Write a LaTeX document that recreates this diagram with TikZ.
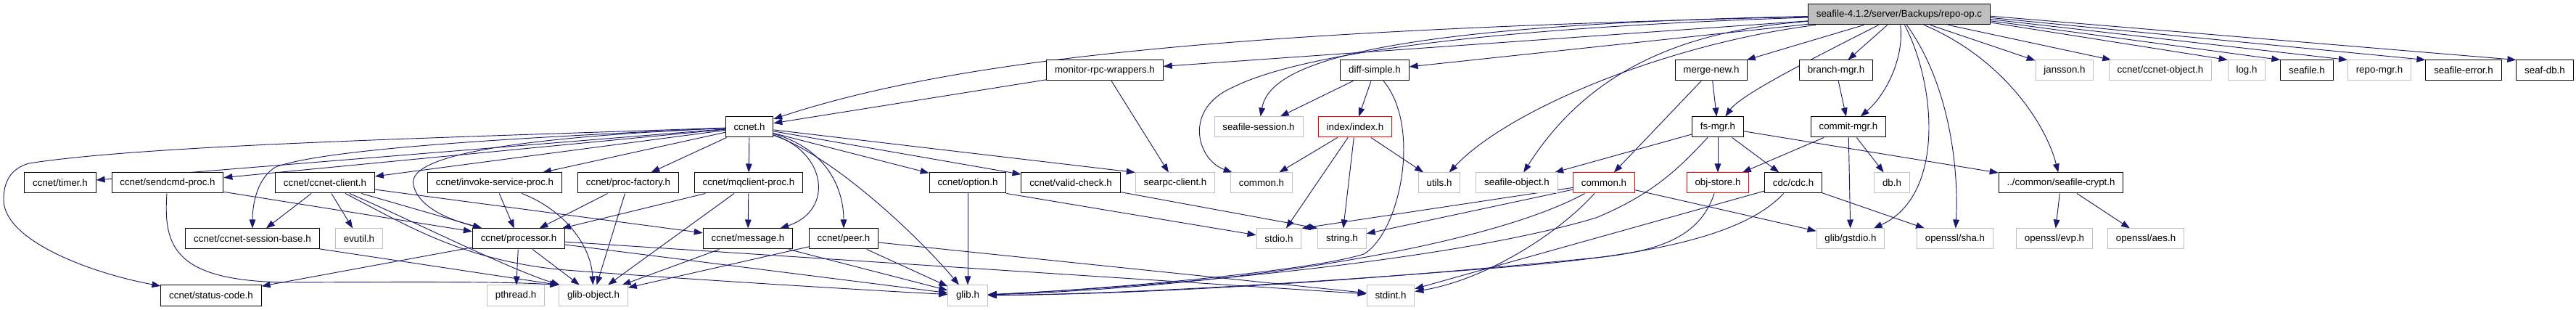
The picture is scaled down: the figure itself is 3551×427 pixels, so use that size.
\documentclass[tikz,border=0pt]{standalone}
\usepackage{fontspec}
\setmainfont{Liberation Sans}
\usetikzlibrary{arrows.meta, backgrounds}
\definecolor{incblue}{HTML}{191970}
\definecolor{sysgray}{HTML}{BFBFBF}
\tikzset{
  hfile/.style={rectangle, draw=black, fill=white, line width=0.75pt,
    minimum height=21pt, inner xsep=8.5pt, inner ysep=0pt,
    font=\fontsize{10}{12}\selectfont},
  hsys/.style={hfile, draw=sysgray},
  hmiss/.style={hfile, draw=red},
  hmain/.style={hfile, fill=sysgray},
  inc/.style={draw=incblue, line width=0.7pt, -{Triangle[length=9pt,width=6.5pt]}}
}

\begin{document}
\begin{tikzpicture}[x=0.75pt, y=-0.75pt]
  % 固定画布大小（像素坐标，y 向下）
  \useasboundingbox (0,0) rectangle (3551,427);
  % 各行的纵坐标
  \def\rowa{20}
  \def\rowb{97}
  \def\rowc{175}
  \def\rowd{252}
  \def\rowe{329}
  \def\rowf{407}

  % 第0行：源文件
  \node[hmain] (root) at (2618,\rowa) {seafile-4.1.2/server/Backups/repo-op.c};

  % 第1行
  \node[hfile] (monitor) at (1523,\rowb) {monitor-rpc-wrappers.h};
  \node[hfile] (diffsimple) at (1895,\rowb) {diff-simple.h};
  \node[hfile] (mergenew) at (2359,\rowb) {merge-new.h};
  \node[hfile] (branchmgr) at (2531,\rowb) {branch-mgr.h};
  \node[hsys] (jansson) at (2846,\rowb) {jansson.h};
  \node[hsys] (ccnetobj) at (2978,\rowb) {ccnet/ccnet-object.h};
  \node[hsys] (logh) at (3097,\rowb) {log.h};
  \node[hfile] (seafileh) at (3180,\rowb) {seafile.h};
  \node[hsys] (repomgr) at (3280,\rowb) {repo-mgr.h};
  \node[hfile] (seaferr) at (3396,\rowb) {seafile-error.h};
  \node[hfile] (seafdb) at (3508,\rowb) {seaf-db.h};

  % 第2行
  \node[hfile] (ccneth) at (1033,\rowc) {ccnet.h};
  \node[hsys] (session) at (1735,\rowc) {seafile-session.h};
  \node[hmiss] (indexh) at (1868,\rowc) {index/index.h};
  \node[hfile] (fsmgr) at (2368,\rowc) {fs-mgr.h};
  \node[hfile] (commitmgr) at (2548,\rowc) {commit-mgr.h};

  % 第3行
  \node[hfile] (timer) at (83,\rowd) {ccnet/timer.h};
  \node[hfile] (sendcmd) at (231,\rowd) {ccnet/sendcmd-proc.h};
  \node[hfile] (client) at (448,\rowd) {ccnet/ccnet-client.h};
  \node[hfile] (invoke) at (682,\rowd) {ccnet/invoke-service-proc.h};
  \node[hfile] (procfactory) at (866,\rowd) {ccnet/proc-factory.h};
  \node[hfile] (mqclient) at (1032,\rowd) {ccnet/mqclient-proc.h};
  \node[hfile] (option) at (1334,\rowd) {ccnet/option.h};
  \node[hfile] (validcheck) at (1476,\rowd) {ccnet/valid-check.h};
  \node[hsys] (searpc) at (1620,\rowd) {searpc-client.h};
  \node[hsys] (commongray) at (1739,\rowd) {common.h};
  \node[hsys] (utils) at (1984,\rowd) {utils.h};
  \node[hsys] (seafobj) at (2091,\rowd) {seafile-object.h};
  \node[hmiss] (commonred) at (2211,\rowd) {common.h};
  \node[hmiss] (objstore) at (2368,\rowd) {obj-store.h};
  \node[hfile] (cdc) at (2472,\rowd) {cdc/cdc.h};
  \node[hsys] (dbh) at (2608,\rowd) {db.h};
  \node[hfile] (crypt) at (2841,\rowd) {../common/seafile-crypt.h};

  % 第4行
  \node[hfile] (sessionbase) at (348,\rowe) {ccnet/ccnet-session-base.h};
  \node[hsys] (evutil) at (495,\rowe) {evutil.h};
  \node[hfile] (processor) at (715,\rowe) {ccnet/processor.h};
  \node[hfile] (message) at (1031,\rowe) {ccnet/message.h};
  \node[hfile] (peer) at (1163,\rowe) {ccnet/peer.h};
  \node[hsys] (stdioh) at (1763,\rowe) {stdio.h};
  \node[hsys] (stringh) at (1850,\rowe) {string.h};
  \node[hsys] (gstdio) at (2551,\rowe) {glib/gstdio.h};
  \node[hsys] (sha) at (2695,\rowe) {openssl/sha.h};
  \node[hsys] (evp) at (2832,\rowe) {openssl/evp.h};
  \node[hsys] (aes) at (2958,\rowe) {openssl/aes.h};

  % 第5行
  \node[hfile] (statuscode) at (291,\rowf) {ccnet/status-code.h};
  \node[hsys] (pthread) at (711,\rowf) {pthread.h};
  \node[hsys] (globject) at (818,\rowf) {glib-object.h};
  \node[hsys] (glibh) at (1334,\rowf) {glib.h};
  \node[hsys] (stdint) at (1917,\rowf) {stdint.h};

  \begin{scope}[on background layer]
    % 源文件直接包含的头文件
    \draw[inc] (root) -- (monitor);
    \draw[inc] (root) .. controls (1800,40) and (1350,70) .. (ccneth);
    \draw[inc] (root) -- (diffsimple);
    \draw[inc] (root) .. controls (1880,35) and (1750,90) .. (session);
    \draw[inc] (root) .. controls (2000,40) and (1780,80) .. (1700,120)
      .. controls (1630,150) and (1650,220) .. (commongray);
    \draw[inc] (root) .. controls (2300,60) and (2080,150) .. (utils);
    \draw[inc] (root) .. controls (2350,40) and (2200,80) .. (seafobj);
    \draw[inc] (root) -- (mergenew);
    \draw[inc] (root) .. controls (2500,80) and (2400,130) .. (fsmgr);
    \draw[inc] (root) -- (branchmgr);
    \draw[inc] (root) .. controls (2625,80) and (2600,130) .. (commitmgr);
    \draw[inc] (root) .. controls (2670,120) and (2680,270) .. (gstdio);
    \draw[inc] (root) .. controls (2690,120) and (2700,240) .. (sha);
    \draw[inc] (root) .. controls (2760,80) and (2820,170) .. (crypt);
    \draw[inc] (root) -- (jansson);
    \draw[inc] (root) -- (ccnetobj);
    \draw[inc] (root.-5) -- (logh.north west);
    \draw[inc] (root.-4.2) -- (seafileh.north west);
    \draw[inc] (root.-3.4) -- (repomgr.north west);
    \draw[inc] (root.-2.6) -- (seaferr.north west);
    \draw[inc] (root.-1.8) -- (seafdb.north west);

    % monitor-rpc-wrappers.h
    \draw[inc] (monitor) -- (ccneth);
    \draw[inc] (monitor) -- (searpc);

    % ccnet.h
    \draw[inc] (ccneth) -- (timer);
    \draw[inc] (ccneth) -- (sendcmd);
    \draw[inc] (ccneth) -- (client);
    \draw[inc] (ccneth) .. controls (700,190) and (450,205) .. (380,230)
      .. controls (355,245) and (348,280) .. (sessionbase);
    \draw[inc] (ccneth) .. controls (600,190) and (200,200) .. (40,225)
      .. controls (15,232) and (5,250) .. (5,275)
      .. controls (5,330) and (120,375) .. (statuscode);
    \draw[inc] (ccneth) .. controls (700,190) and (560,215) .. (570,255)
      .. controls (578,290) and (630,305) .. (processor);
    \draw[inc] (ccneth) -- (invoke);
    \draw[inc] (ccneth) -- (procfactory);
    \draw[inc] (ccneth) -- (mqclient);
    \draw[inc] (ccneth) .. controls (1140,210) and (1150,290) .. (message);
    \draw[inc] (ccneth) .. controls (1140,205) and (1163,260) .. (peer);
    \draw[inc] (ccneth) .. controls (1150,215) and (1270,330) .. (glibh);
    \draw[inc] (ccneth) -- (option);
    \draw[inc] (ccneth) -- (validcheck);
    \draw[inc] (ccneth) -- (searpc.north west);

    % ccnet 子头文件
    \draw[inc] (sendcmd) -- (processor);
    \draw[inc] (sendcmd) .. controls (225,340) and (240,388) .. (400,389)
      .. controls (600,388) and (700,388) .. (globject.north west);
    \draw[inc] (client) -- (sessionbase);
    \draw[inc] (client) -- (evutil);
    \draw[inc] (client) -- (processor);
    \draw[inc] (client) -- (message);
    \draw[inc] (client) .. controls (560,300) and (700,370) .. (globject);
    \draw[inc] (client) .. controls (560,310) and (640,360) .. (780,372)
      .. controls (950,385) and (1200,400) .. (glibh);
    \draw[inc] (sessionbase) -- (globject.north west);
    \draw[inc] (invoke) -- (processor);
    \draw[inc] (invoke) .. controls (780,290) and (815,340) .. (globject);
    \draw[inc] (procfactory) -- (processor);
    \draw[inc] (procfactory) -- (globject);
    \draw[inc] (mqclient) -- (processor);
    \draw[inc] (mqclient) -- (message);
    \draw[inc] (mqclient) -- (globject);
    \draw[inc] (processor) -- (statuscode);
    \draw[inc] (processor) -- (pthread);
    \draw[inc] (processor) -- (globject);
    \draw[inc] (processor) -- (glibh);
    \draw[inc] (processor) -- (stdint);
    \draw[inc] (message) -- (globject);
    \draw[inc] (message) -- (glibh);
    \draw[inc] (peer) -- (globject);
    \draw[inc] (peer) -- (glibh);
    \draw[inc] (peer) -- (stdint);
    \draw[inc] (option) -- (glibh);
    \draw[inc] (option.south east) -- (stdioh);
    \draw[inc] (validcheck) -- (stringh.north west);

    % diff-simple.h 与 index/index.h
    \draw[inc] (diffsimple) -- (session);
    \draw[inc] (diffsimple) -- (indexh);
    \draw[inc] (diffsimple) .. controls (1960,175) and (1930,320) .. (1880,350)
      .. controls (1800,375) and (1500,400) .. (glibh);
    \draw[inc] (indexh) -- (commongray);
    \draw[inc] (indexh) -- (stdioh);
    \draw[inc] (indexh) -- (stringh);
    \draw[inc] (indexh) -- (utils);

    % merge-new.h, fs-mgr.h, commit-mgr.h
    \draw[inc] (mergenew) -- (fsmgr);
    \draw[inc] (mergenew) -- (commonred);
    \draw[inc] (branchmgr) -- (commitmgr);
    \draw[inc] (fsmgr) -- (seafobj);
    \draw[inc] (fsmgr) -- (objstore);
    \draw[inc] (fsmgr) -- (cdc);
    \draw[inc] (fsmgr) -- (crypt);
    \draw[inc] (fsmgr) .. controls (2320,225) and (2285,265) .. (2200,300)
      .. controls (2000,360) and (1600,395) .. (glibh);
    \draw[inc] (commitmgr) -- (objstore);
    \draw[inc] (commitmgr) -- (gstdio);
    \draw[inc] (commitmgr) -- (dbh);

    % common.h, obj-store.h, cdc/cdc.h, seafile-crypt.h
    \draw[inc] (commonred) -- (stdioh.north east);
    \draw[inc] (commonred) -- (stringh);
    \draw[inc] (commonred) .. controls (2050,340) and (1700,395) .. (glibh);
    \draw[inc] (commonred) .. controls (2150,320) and (2050,385) .. (stdint);
    \draw[inc] (commonred) -- (gstdio);
    \draw[inc] (objstore) .. controls (2345,320) and (2300,345) .. (2200,355)
      .. controls (1900,385) and (1600,405) .. (glibh);
    \draw[inc] (cdc) -- (sha);
    \draw[inc] (cdc) -- (stdint);
    \draw[inc] (cdc) .. controls (2400,330) and (2250,355) .. (2050,370)
      .. controls (1800,390) and (1550,405) .. (glibh);
    \draw[inc] (crypt) -- (evp);
    \draw[inc] (crypt) -- (aes);
  \end{scope}
\end{tikzpicture}
\end{document}
